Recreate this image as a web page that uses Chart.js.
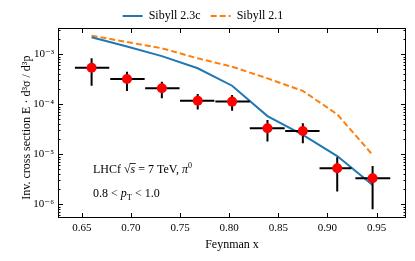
<!DOCTYPE html>
<html>
<head>
<meta charset="utf-8">
<script src="https://cdn.jsdelivr.net/npm/chart.js@4"></script>
<style>
  body { margin: 0; background: #fff; }
  canvas { display: block; }
</style>
</head>
<body>
<canvas id="xfChart" width="415" height="261"></canvas>
<script>
// LHCf pi0, 0.8 < pT < 1.0, bins in Feynman x
const feynmanX = [0.660, 0.696, 0.7315, 0.768, 0.803, 0.839, 0.875, 0.910, 0.946];
const binLow = [0.643, 0.679, 0.7145, 0.750, 0.786, 0.821, 0.857, 0.892, 0.9285];
const binHigh = [0.678, 0.714, 0.7495, 0.785, 0.821, 0.8565, 0.892, 0.9245, 0.964];
const lhcfValues = [5.4e-4, 3.2e-4, 2.09e-4, 1.18e-4, 1.13e-4, 3.3e-5, 2.92e-5, 5.25e-6, 3.31e-6];
const lhcfUpper = [8.3e-4, 4.49e-4, 2.83e-4, 1.61e-4, 1.53e-4, 4.85e-5, 4.17e-5, 8.7e-6, 5.83e-6];
const lhcfLower = [2.35e-4, 1.85e-4, 1.32e-4, 7.9e-5, 7.45e-5, 1.79e-5, 1.66e-5, 1.79e-6, 7.9e-7];

// model predictions at the same bin centres
const sibyll23c = [2.19e-3, 1.43e-3, 9.2e-4, 5.25e-4, 2.35e-4, 5.8e-5, 2.43e-5, 9.2e-6, 2.43e-6];
const sibyll21 = [2.36e-3, 1.76e-3, 1.32e-3, 8.3e-4, 5.65e-4, 3.3e-4, 1.85e-4, 6.3e-5, 9.7e-6];

const xTicks = [0.65, 0.70, 0.75, 0.80, 0.85, 0.90, 0.95];
const xTickLabels = ['0.65', '0.70', '0.75', '0.80', '0.85', '0.90', '0.95'];
const yTicks = [1e-6, 1e-5, 1e-4, 1e-3];
const yTickLabels = ['10⁻⁶', '10⁻⁵', '10⁻⁴', '10⁻³'];

const serif = '"Liberation Serif", "DejaVu Serif", serif';

const toPoints = (vals) => feynmanX.map((x, i) => ({ x: x, y: vals[i] }));

// error bars go under the red markers
const errorBars = {
    id: 'errorBars',
    beforeDatasetDraw(chart, args) {
        if (args.index !== 0) return;
        const { ctx, scales: { x, y } } = chart;
        ctx.save();
        ctx.strokeStyle = '#000';
        ctx.lineWidth = 2;
        ctx.beginPath();
        feynmanX.forEach((fx, i) => {
            const px = x.getPixelForValue(fx);
            const py = y.getPixelForValue(lhcfValues[i]);
            ctx.moveTo(x.getPixelForValue(binLow[i]), py);
            ctx.lineTo(x.getPixelForValue(binHigh[i]), py);
            ctx.moveTo(px, y.getPixelForValue(lhcfUpper[i]));
            ctx.lineTo(px, y.getPixelForValue(lhcfLower[i]));
        });
        ctx.stroke();
        ctx.restore();
    }
};

// draws runs of text with different styles one after another
function drawRuns(ctx, runs, x, y) {
    runs.forEach(r => {
        const size = r.size || 12;
        ctx.font = (r.italic ? 'italic ' : '') + size + 'px ' + serif;
        ctx.fillText(r.t, x, y + (r.dy || 0));
        const w = ctx.measureText(r.t).width;
        if (r.over) {
            ctx.beginPath();
            ctx.lineWidth = 0.8;
            ctx.moveTo(x - 1, y - 9.5);
            ctx.lineTo(x + w + 0.5, y - 9.5);
            ctx.stroke();
        }
        x += w;
    });
}

// frame, inward ticks on all sides, and the text box
const frameTicks = {
    id: 'frameTicks',
    afterDraw(chart) {
        const { ctx, chartArea: a, scales: { x, y } } = chart;
        ctx.save();
        ctx.strokeStyle = '#000';
        ctx.lineWidth = 1;
        ctx.strokeRect(a.left + 0.5, a.top + 0.5, a.right - a.left - 1, a.bottom - a.top - 1);
        ctx.beginPath();
        xTicks.forEach(v => {
            const px = Math.round(x.getPixelForValue(v)) + 0.5;
            ctx.moveTo(px, a.bottom);
            ctx.lineTo(px, a.bottom - 5);
            ctx.moveTo(px, a.top);
            ctx.lineTo(px, a.top + 5);
        });
        for (let e = -7; e <= -2; e++) {
            for (let m = 1; m <= 9; m++) {
                const v = m * Math.pow(10, e);
                if (v < y.min || v > y.max) continue;
                const len = m === 1 ? 5 : 2.5;
                const py = Math.round(y.getPixelForValue(v)) + 0.5;
                ctx.moveTo(a.left, py);
                ctx.lineTo(a.left + len, py);
                ctx.moveTo(a.right, py);
                ctx.lineTo(a.right - len, py);
            }
        }
        ctx.stroke();

        ctx.fillStyle = '#000';
        ctx.textBaseline = 'alphabetic';
        ctx.textAlign = 'left';
        const tx = a.left + 35;
        drawRuns(ctx, [
            { t: 'LHCf ' },
            { t: '√' },
            { t: 's', italic: true, over: true },
            { t: ' = 7 TeV, ' },
            { t: 'π', italic: true },
            { t: '0', size: 8, dy: -5 }
        ], tx, a.top + 145);
        drawRuns(ctx, [
            { t: '0.8 < ' },
            { t: 'p', italic: true },
            { t: 'T', size: 8.5, dy: 3 },
            { t: ' < 1.0' }
        ], tx, a.top + 169);
        ctx.restore();
    }
};

const ctx = document.getElementById('xfChart').getContext('2d');

const xfChart = new Chart(ctx, {
    type: 'line',
    data: {
        datasets: [{
            label: 'LHCf',
            data: toPoints(lhcfValues),
            showLine: false,
            pointRadius: 5,
            pointBackgroundColor: '#ff0000',
            pointBorderColor: '#ff0000',
            pointBorderWidth: 0
        }, {
            label: 'Sibyll 2.3c',
            data: toPoints(sibyll23c),
            borderColor: '#1f77b4',
            backgroundColor: '#1f77b4',
            borderWidth: 2,
            pointRadius: 0,
            tension: 0
        }, {
            label: 'Sibyll 2.1',
            data: toPoints(sibyll21),
            borderColor: '#ff7f0e',
            backgroundColor: '#ff7f0e',
            borderWidth: 2,
            borderDash: [6, 3],
            pointRadius: 0,
            tension: 0
        }]
    },
    options: {
        responsive: false,
        animation: false,
        devicePixelRatio: 1,
        layout: { padding: { top: 0, right: 9, left: 0, bottom: 0 } },
        plugins: {
            legend: {
                position: 'top',
                maxHeight: 28,
                labels: {
                    usePointStyle: true,
                    pointStyle: 'line',
                    pointStyleWidth: 20,
                    padding: 10,
                    color: '#000',
                    font: { family: serif, size: 12 },
                    // line samples keep the dataset dash and width
                    generateLabels: (chart) => Chart.defaults.plugins.legend.labels.generateLabels(chart)
                        .filter(item => item.text !== 'LHCf')
                        .map(item => {
                            const ds = chart.data.datasets[item.datasetIndex];
                            return Object.assign(item, {
                                pointStyle: 'line',
                                strokeStyle: ds.borderColor,
                                fillStyle: ds.borderColor,
                                lineWidth: ds.borderWidth,
                                lineDash: ds.borderDash || []
                            });
                        })
                }
            },
            tooltip: { enabled: false }
        },
        scales: {
            x: {
                type: 'linear',
                min: 0.6258,
                max: 0.980,
                afterFit: (s) => { s.height = 43; },
                afterBuildTicks: (s) => { s.ticks = xTicks.map(v => ({ value: v })); },
                grid: { display: false, drawTicks: false },
                border: { display: false },
                ticks: {
                    padding: 4,
                    maxRotation: 0,
                    autoSkip: false,
                    color: '#000',
                    font: { family: serif, size: 11 },
                    callback: (v, i) => xTickLabels[i]
                },
                title: {
                    display: true,
                    text: 'Feynman x',
                    color: '#000',
                    font: { family: serif, size: 12 },
                    padding: { top: 0, bottom: 9 }
                }
            },
            y: {
                type: 'logarithmic',
                min: 5.3e-7,
                max: 3.36e-3,
                afterFit: (s) => { s.width = 58; },
                afterBuildTicks: (s) => { s.ticks = yTicks.map(v => ({ value: v })); },
                grid: { display: false, drawTicks: false },
                border: { display: false },
                ticks: {
                    padding: 4,
                    autoSkip: false,
                    color: '#000',
                    font: { family: serif, size: 11 },
                    callback: (v, i) => yTickLabels[i]
                },
                title: {
                    display: true,
                    text: 'Inv. cross section E · d³σ / d³p⃗',
                    color: '#000',
                    font: { family: serif, size: 12 },
                    padding: { top: 20, bottom: 0 }
                }
            }
        }
    },
    plugins: [errorBars, frameTicks]
});
</script>
</body>
</html>
